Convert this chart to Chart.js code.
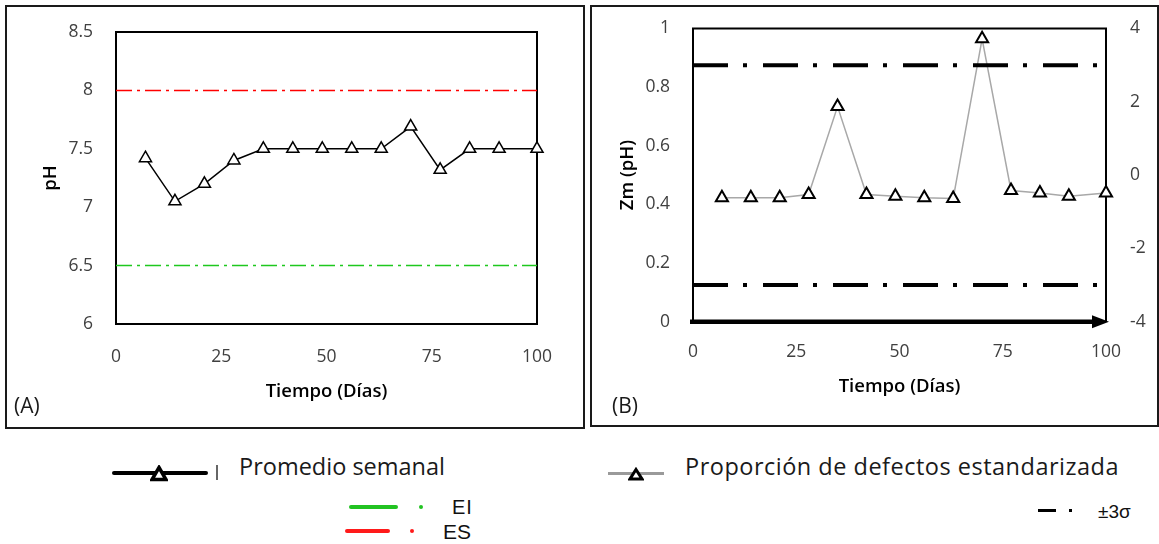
<!DOCTYPE html>
<html><head><meta charset="utf-8">
<script src="https://cdn.jsdelivr.net/npm/chart.js@4.4.0/dist/chart.umd.min.js"></script>
<style>
body{margin:0;background:#fff;width:1159px;height:544px;position:relative;overflow:hidden;font-family:'Open Sans',sans-serif;}
.panel{position:absolute;border:2px solid #1a1a1a;box-sizing:border-box;}
.panel canvas{display:block;}
.abs{position:absolute;white-space:nowrap;line-height:1;transform:translateY(-50%);}
.bx{position:absolute;}
</style></head><body>
<div class="panel" style="left:5px;top:5px;width:580px;height:424px;"><canvas id="cA" width="576" height="420"></canvas></div>
<div class="panel" style="left:590px;top:5px;width:569px;height:422px;"><canvas id="cB" width="565" height="418"></canvas></div>

<div class="abs" style="left:14px;top:405px;font-size:21px;color:#1a1a1a;">(A)</div>
<div class="abs" style="left:612px;top:405px;font-size:21px;color:#1a1a1a;">(B)</div>

<!-- legend left -->
<div class="bx" style="left:112px;top:471px;width:96px;height:4px;background:#000;border-radius:2px;"></div>
<svg class="bx" style="left:150px;top:465px;" width="18" height="17"><polygon points="9,2.5 16,14.5 2,14.5" fill="#fff" stroke="#000" stroke-width="3.5"/></svg>
<div class="bx" style="left:216px;top:465px;width:1.5px;height:15px;background:#666;"></div>
<div class="abs" style="left:239px;top:467px;font-size:23.5px;color:#1a1a1a;">Promedio semanal</div>

<div class="bx" style="left:349px;top:505px;width:49px;height:3.5px;background:#22c322;border-radius:2px;"></div>
<div class="bx" style="left:419px;top:505px;width:4px;height:4px;background:#22c322;border-radius:2px;"></div>
<div class="abs" style="left:452px;top:507px;font-size:20px;letter-spacing:1px;color:#111;font-family:'Liberation Sans',Arial,sans-serif;">EI</div>

<div class="bx" style="left:345px;top:529px;width:45px;height:3.5px;background:#ff1a1a;border-radius:2px;"></div>
<div class="bx" style="left:410px;top:529px;width:4px;height:4px;background:#ff1a1a;border-radius:2px;"></div>
<div class="abs" style="left:443px;top:531px;font-size:21px;color:#111;font-family:'Liberation Sans',Arial,sans-serif;">ES</div>

<!-- legend right -->
<div class="bx" style="left:608px;top:472px;width:56px;height:2.5px;background:#9a9a9a;"></div>
<svg class="bx" style="left:628px;top:467px;" width="16" height="14"><polygon points="8,2.5 14,12 2,12" fill="#fff" stroke="#000" stroke-width="3"/></svg>
<div class="abs" style="left:685px;top:467px;font-size:23.5px;letter-spacing:0.5px;color:#1a1a1a;">Proporción de defectos estandarizada</div>

<div class="bx" style="left:1038px;top:509px;width:18px;height:3px;background:#000;"></div>
<div class="bx" style="left:1069px;top:509px;width:3px;height:3px;background:#000;"></div>
<div class="abs" style="left:1098px;top:511px;font-size:19px;color:#111;font-family:'Liberation Sans',Arial,sans-serif;">±3σ</div>

<script>
// ---- data ----
const days = [7, 14, 21, 28, 35, 42, 49, 56, 63, 70, 77, 84, 91, 100];
const phWeekly = [7.42, 7.05, 7.2, 7.4, 7.5, 7.5, 7.5, 7.5, 7.5, 7.69, 7.32, 7.5, 7.5, 7.5];
const limitDays = [0, 100];
const esLimit = [8, 8];
const eiLimit = [6.5, 6.5];
const zStandardized = [-0.62, -0.62, -0.62, -0.53, 1.87, -0.53, -0.58, -0.62, -0.64, 3.72, -0.42, -0.49, -0.58, -0.49];
const sigmaUpper = [3, 3];
const sigmaLower = [-3, -3];
const xTicks = [0, 25, 50, 75, 100];
const phTicks = [6, 6.5, 7, 7.5, 8, 8.5];
const zmTicks = [0, 0.2, 0.4, 0.6, 0.8, 1];
const zTicks = [-4, -2, 0, 2, 4];

Chart.defaults.font.family = "'Open Sans', sans-serif";
Chart.defaults.devicePixelRatio = 1;

const pts = (xs, ys) => xs.map((x, i) => ({x: x, y: ys[i]}));
const fmt = v => String(Math.round(v * 100) / 100);
const setTicks = arr => s => { s.ticks = arr.map(v => ({value: v})); };
const fixSize = (w, h) => s => {
  if (w !== null) s.width = w;
  if (h !== null) s.height = h;
  s.paddingTop = 0; s.paddingBottom = 0; s.paddingLeft = 0; s.paddingRight = 0;
};
const tickFont = {size: 17.5};
const tickColor = '#404040';
const titleFont = {size: 18.5, weight: '600'};

const frameA = {
  id: 'frameA',
  beforeDatasetsDraw(chart) {
    const {ctx, chartArea: a} = chart;
    ctx.save();
    ctx.strokeStyle = '#000';
    ctx.lineWidth = 2;
    ctx.strokeRect(a.left, a.top, a.right - a.left, a.bottom - a.top);
    ctx.restore();
  }
};

new Chart(document.getElementById('cA'), {
  type: 'line',
  data: {
    datasets: [
      {data: pts(days, phWeekly), borderColor: '#000', borderWidth: 1.5, pointStyle: 'triangle', pointRadius: 7,
       pointBackgroundColor: '#fff', pointBorderColor: '#000', pointBorderWidth: 1.5, clip: false, tension: 0},
      {data: pts(limitDays, esLimit), borderColor: '#ff0000', borderWidth: 1.5, borderDash: [16, 5, 3, 5], pointRadius: 0},
      {data: pts(limitDays, eiLimit), borderColor: '#1ec81e', borderWidth: 1.5, borderDash: [16, 5, 3, 5], pointRadius: 0}
    ]
  },
  options: {
    responsive: false, animation: false,
    layout: {padding: {top: 25, right: 46, left: 0, bottom: 0}, autoPadding: false},
    plugins: {legend: {display: false}, tooltip: {enabled: false}},
    scales: {
      x: {type: 'linear', min: 0, max: 100, afterBuildTicks: setTicks(xTicks), afterFit: fixSize(null, 103),
          grid: {display: false, drawTicks: false}, border: {display: false},
          ticks: {padding: 23, color: tickColor, font: tickFont, autoSkip: false, maxRotation: 0, callback: fmt},
          title: {display: true, text: 'Tiempo (Días)', color: '#000', font: titleFont, padding: {top: 0, bottom: 24}}},
      y: {type: 'linear', min: 6, max: 8.5, afterBuildTicks: setTicks(phTicks), afterFit: fixSize(109, null),
          grid: {display: false, drawTicks: false}, border: {display: false},
          ticks: {padding: 23, color: tickColor, font: tickFont, autoSkip: false, callback: fmt},
          title: {display: true, text: 'pH', color: '#000', font: titleFont, padding: {top: 33, bottom: 0}}}
    }
  },
  plugins: [frameA]
});

const frameB = {
  id: 'frameB',
  beforeDatasetsDraw(chart) {
    const {ctx, chartArea: a} = chart;
    ctx.save();
    ctx.strokeStyle = '#000';
    ctx.lineWidth = 2;
    ctx.beginPath();
    ctx.moveTo(a.left, a.bottom);
    ctx.lineTo(a.left, a.top);
    ctx.lineTo(a.right, a.top);
    ctx.lineTo(a.right, a.bottom);
    ctx.stroke();
    ctx.restore();
  },
  afterDatasetsDraw(chart) {
    const {ctx, chartArea: a} = chart;
    ctx.save();
    ctx.strokeStyle = '#000';
    ctx.fillStyle = '#000';
    ctx.lineWidth = 4.5;
    ctx.beginPath();
    ctx.moveTo(a.left - 3, a.bottom);
    ctx.lineTo(a.right - 10, a.bottom);
    ctx.stroke();
    ctx.beginPath();
    ctx.moveTo(a.right + 3, a.bottom);
    ctx.lineTo(a.right - 14, a.bottom - 6.5);
    ctx.lineTo(a.right - 14, a.bottom + 6.5);
    ctx.closePath();
    ctx.fill();
    ctx.restore();
  }
};

new Chart(document.getElementById('cB'), {
  type: 'line',
  data: {
    datasets: [
      {data: pts(limitDays, sigmaUpper), yAxisID: 'y2', borderColor: '#000', borderWidth: 4, borderDash: [35, 15, 4, 16], pointRadius: 0},
      {data: pts(limitDays, sigmaLower), yAxisID: 'y2', borderColor: '#000', borderWidth: 4, borderDash: [35, 15, 4, 16], pointRadius: 0},
      {data: pts(days, zStandardized), yAxisID: 'y2', borderColor: '#a8a8a8', borderWidth: 1.5, pointStyle: 'triangle', pointRadius: 7,
       pointBackgroundColor: '#fff', pointBorderColor: '#000', pointBorderWidth: 2, clip: false, tension: 0}
    ]
  },
  options: {
    responsive: false, animation: false,
    layout: {padding: {top: 21.5, right: 0, left: 0, bottom: 0}, autoPadding: false},
    plugins: {legend: {display: false}, tooltip: {enabled: false}},
    scales: {
      x: {type: 'linear', min: 0, max: 100, afterBuildTicks: setTicks(xTicks), afterFit: fixSize(null, 103.3),
          grid: {display: false, drawTicks: false}, border: {display: false},
          ticks: {padding: 20, color: tickColor, font: tickFont, autoSkip: false, maxRotation: 0, callback: fmt},
          title: {display: true, text: 'Tiempo (Días)', color: '#000', font: titleFont, padding: {top: 0, bottom: 27}}},
      y: {type: 'linear', position: 'left', min: 0, max: 1, afterBuildTicks: setTicks(zmTicks), afterFit: fixSize(101, null),
          grid: {display: false, drawTicks: false}, border: {display: false},
          ticks: {padding: 23, color: tickColor, font: tickFont, autoSkip: false, callback: fmt},
          title: {display: true, text: 'Zm (pH)', color: '#000', font: titleFont, padding: {top: 25, bottom: 0}}},
      y2: {type: 'linear', position: 'right', min: -4, max: 4, afterBuildTicks: setTicks(zTicks), afterFit: fixSize(51, null),
          grid: {display: false, drawTicks: false}, border: {display: false},
          ticks: {padding: 24, color: tickColor, font: tickFont, autoSkip: false, callback: fmt}}
    }
  },
  plugins: [frameB]
});
</script>
</body></html>
